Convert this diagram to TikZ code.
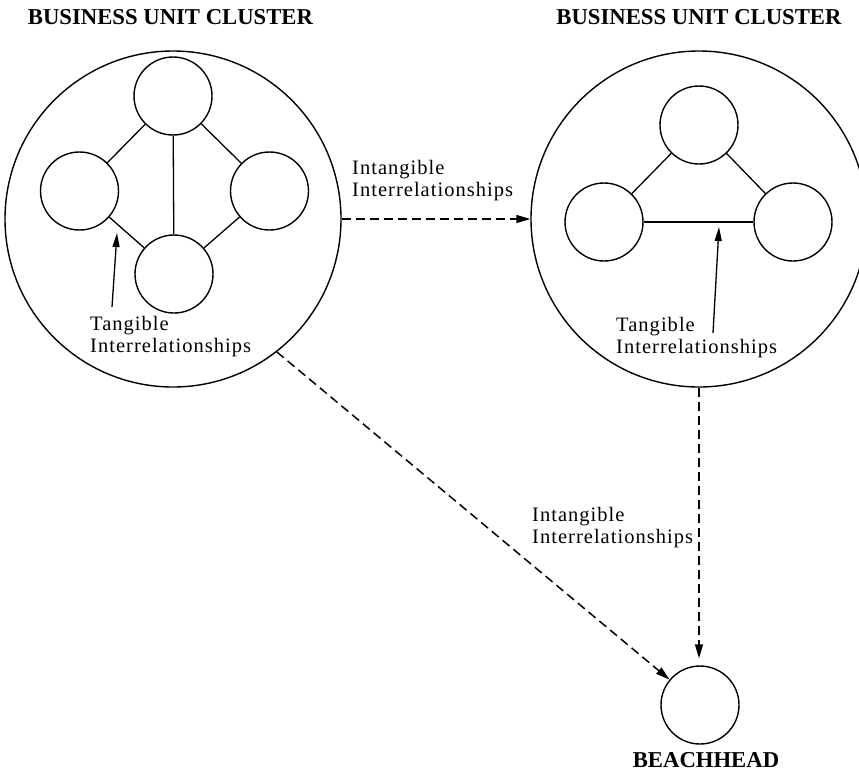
\documentclass[tikz,border=0pt]{standalone}
\usepackage{fontspec}
\setmainfont{Liberation Serif}
\newfontfamily\lblfont{Liberation Serif}[LetterSpace=5]
\usetikzlibrary{arrows.meta,positioning}

\begin{document}
\begin{tikzpicture}[x=1pt,y=-1pt,
      unit/.style={draw,circle,line width=1.4pt,minimum size=78pt,inner sep=0pt},
      cluster/.style={draw,circle,line width=1.4pt,minimum size=336pt,inner sep=0pt},
      ttl/.style={font=\bfseries\fontsize{22.7}{24}\selectfont,inner sep=0pt},
      lbl/.style={font=\lblfont\fontsize{20.5}{22}\selectfont,align=left,inner sep=0pt,anchor=north west},
      link/.style={line width=1.3pt},
      arr/.style={-{Triangle[length=14pt,width=7pt]},line width=1.3pt},
      dasharr/.style={-{Triangle[length=14pt,width=8pt]},line width=1.5pt,dash pattern=on 9pt off 5pt}]
    \useasboundingbox (0,0) rectangle (859,772);
    % left cluster
    \node[ttl] (t1) at (170.5,17.5) {BUSINESS UNIT CLUSTER};
    \node[cluster] (L) at (173,219) {};
    \node[unit] (a1) at (173,96) {};
    \node[unit] (a2) at (79.5,191) {};
    \node[unit] (a3) at (269.5,191) {};
    \node[unit] (a4) at (174,274) {};
    \draw[link] (a1)--(a2); \draw[link] (a1)--(a3); \draw[link] (a1)--(a4);
    \draw[link] (a2)--(a4); \draw[link] (a3)--(a4);
    \node[lbl] (tg1) at (90,316) {Tangible\\Interrelationships};
    \coordinate (tg1s) at (112,307);
    \coordinate (tg1e) at (117,233);
    \draw[arr] (tg1s)--(tg1e);
    % right cluster
    \node[ttl] (t2) at (699,17.5) {BUSINESS UNIT CLUSTER};
    \node[cluster] (R) at (699,219) {};
    \node[unit] (b1) at (699,125) {};
    \node[unit] (b2) at (604,222) {};
    \node[unit] (b3) at (793,222) {};
    \draw[link] (b1)--(b2); \draw[link] (b1)--(b3); \draw[link] (b2)--(b3);
    \node[lbl] (tg2) at (616,317) {Tangible\\Interrelationships};
    \coordinate (tg2s) at (713,333);
    \coordinate (tg2e) at (719,227);
    \draw[arr] (tg2s)--(tg2e);
    % beachhead
    \node[unit] (bh) at (700,705) {};
    \node[ttl] (bht) at (706,760) {BEACHHEAD};
    \draw[dasharr] (L)--(R);
    \node[lbl] (in1) at (352,160) {Intangible\\Interrelationships};
    \draw[dasharr,shorten >=7pt] (R.south)--(R.south|-bh.north);
    \node[lbl] (in2) at (532,507) {Intangible\\Interrelationships};
    \draw[dasharr] (L.-52)--(bh);
  \end{tikzpicture}
\end{document}
